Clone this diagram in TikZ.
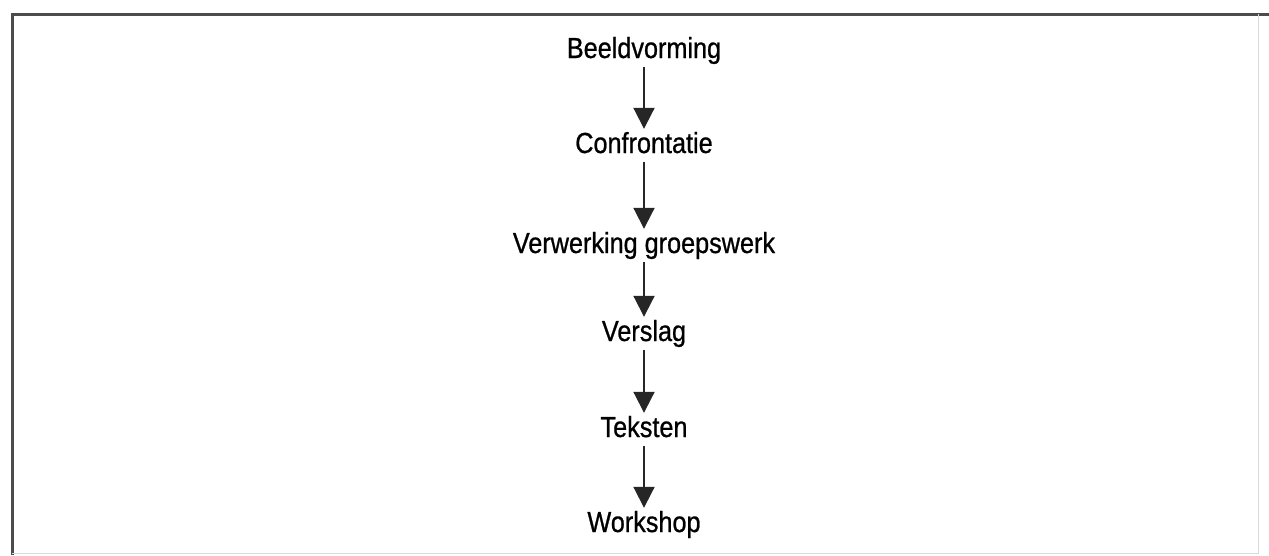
\documentclass[tikz,border=0pt]{standalone}
\usepackage{fontspec}
\setmainfont[FakeStretch=0.87,FakeBold=0.8]{Liberation Sans}
\usetikzlibrary{arrows.meta}
\begin{document}
\begin{tikzpicture}[x=1pt,y=-1pt,
  lab/.style={anchor=base,inner xsep=0pt,inner ysep=2pt,font=\fontsize{29}{32}\selectfont,text height=22pt,text depth=7pt,text=black},
  flow/.style={line width=2pt,draw=black!85,-{Triangle[length=21pt,width=21pt]}}]
\useasboundingbox (0,0) rectangle (1269,555);
\draw[line width=3pt,draw=black!70] (1269,14) -- (12,14) -- (12,555);
\draw[line width=1pt,draw=black!15] (1258,14) -- (1258,553) -- (12,553);
\node[lab] (a) at (644,58) {Beeldvorming};
\node[lab] (b) at (644,153) {Confrontatie};
\node[lab] (c) at (644,253) {Verwerking groepswerk};
\node[lab] (d) at (644,341) {Verslag};
\node[lab] (e) at (644,437) {Teksten};
\node[lab] (f) at (644,532) {Workshop};
\draw[flow] (a.south) -- (b.north);
\draw[flow] (b.south) -- (c.north);
\draw[flow] (c.south) -- (d.north);
\draw[flow] (d.south) -- (e.north);
\draw[flow] (e.south) -- (f.north);
\end{tikzpicture}
\end{document}
